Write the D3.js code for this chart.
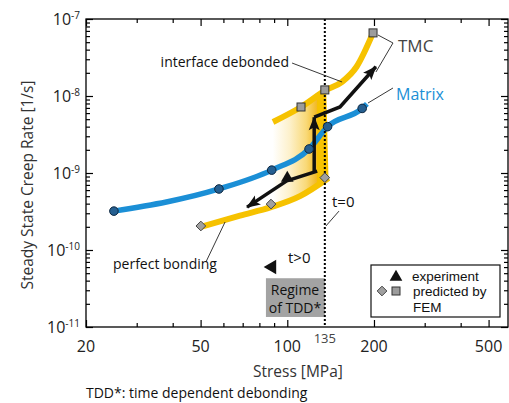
<!DOCTYPE html>
<html>
<head>
<meta charset="utf-8">
<title>Steady state creep rate vs stress</title>
<style>
body { margin: 0; background: #fff; }
svg { display: block; font-family: "Open Sans", sans-serif; }
</style>
</head>
<body>
<svg id="chart" width="509" height="403"></svg>
<script src="https://cdn.jsdelivr.net/npm/d3@7/dist/d3.min.js"></script>
<script>
//----------------------------- DATA -----------------------------//
// stress [MPa], creep rate [1/s]
var xTicks = [20, 50, 100, 200, 500];
var xMinor = [30, 40, 60, 70, 80, 90, 300, 400];
var yTicks = [1e-7, 1e-8, 1e-9, 1e-10, 1e-11];
var yTickExp = ["-7", "-8", "-9", "-10", "-11"];

// matrix: FEM circles and the blue curve through them
var matrixPts = [[25, 3.2e-10], [57.9, 6.2e-10], [88.3, 1.09e-9], [119, 2.05e-9], [138, 4.0e-9], [182, 6.9e-9]];
var matrixLine = [[25, 3.2e-10], [57.9, 6.2e-10], [88.3, 1.09e-9], [119, 2.05e-9], [138, 4.0e-9], [182, 6.9e-9], [189, 7.9e-9]];

// TMC, interface debonded (upper yellow) with FEM squares
var debondLine = [[89.2, 4.6e-9], [111.6, 7.2e-9], [136.5, 1.2e-8], [155, 1.53e-8], [174, 2.4e-8], [198.5, 6.6e-8]];
var debondSquares = [[111.6, 7.2e-9], [135, 1.2e-8], [198.5, 6.6e-8]];

// TMC, perfect bonding (lower yellow) with FEM diamonds
var bondLine = [[50.1, 2.0e-10], [68.5, 2.8e-10], [87.8, 3.6e-10], [110.7, 5.0e-10], [139, 8.6e-10]];
var bondDiamonds = [[50.1, 2.05e-10], [87.8, 3.95e-10], [135, 8.7e-10]];

// TMC experiment (black arrows)
var expLow = [[127, 1.06e-9], [99.6, 7.9e-10], [72.5, 3.6e-10]];
var expRise = [[124, 1.06e-9], [124, 5.3e-9]];
var expHigh = [[124, 5.3e-9], [152.4, 7.2e-9], [203, 2.4e-8]];
var expTriangles = [[100, 8.6e-10]];

var tddStress = 135;

//----------------------------- SVG ------------------------------//
var svg = d3.select("#chart");
var margin = {top: 19, right: 1, bottom: 76, left: 86};
var W = +svg.attr("width"), H = +svg.attr("height");

var x = d3.scaleLog().domain([20, 584]).range([margin.left, W - margin.right]);
var y = d3.scaleLog().domain([1e-11, 1e-7]).range([H - margin.bottom, margin.top]);

var yellow = "#f6c200", blue = "#1b8fd6";

var curve = d3.line()
    .curve(d3.curveMonotoneX)
    .x(function (d) { return x(d[0]); })
    .y(function (d) { return y(d[1]); });
var straight = d3.line()
    .x(function (d) { return x(d[0]); })
    .y(function (d) { return y(d[1]); });

var defs = svg.append("defs");
var grad = defs.append("linearGradient")
    .attr("id", "tddGrad")
    .attr("gradientUnits", "userSpaceOnUse")
    .attr("x1", x(89)).attr("x2", x(139)).attr("y1", 0).attr("y2", 0);
[[0, "#ffffff"], [0.3, "#fdf1cc"], [0.6, "#f9d978"], [0.8, "#f2b820"], [0.8, yellow], [1, yellow]]
    .forEach(function (s) {
        grad.append("stop").attr("offset", s[0]).attr("stop-color", s[1]);
    });

defs.append("marker")
    .attr("id", "arrow")
    .attr("viewBox", "-14 -7 16 14")
    .attr("refX", 0).attr("refY", 0)
    .attr("markerWidth", 16).attr("markerHeight", 14)
    .attr("markerUnits", "userSpaceOnUse")
    .attr("orient", "auto")
    .append("path")
    .attr("d", "M1,0 L-13,-5.5 L-10,0 L-13,5.5 Z")
    .attr("fill", "#111");

//------------------------ TDD REGION ----------------------------//
var bandPath = curve(debondLine.filter(function (d) { return d[0] <= 140; })) +
    straight(bondLine.filter(function (d) { return d[0] >= 87; }).reverse()).replace("M", "L") + "Z";
svg.append("path").attr("d", bandPath).attr("fill", "url(#tddGrad)");

// gray box
svg.append("rect")
    .attr("x", x(84.3)).attr("y", y(4.3e-11))
    .attr("width", x(tddStress) - x(84.3))
    .attr("height", y(1.35e-11) - y(4.3e-11))
    .attr("fill", "#a3a3a3");
svg.append("text").attr("x", 295).attr("y", 295).attr("text-anchor", "middle")
    .style("font-size", "14px").attr("fill", "#111").text("Regime");
svg.append("text").attr("x", 295).attr("y", 312.5).attr("text-anchor", "middle")
    .style("font-size", "14px").attr("fill", "#111").text("of TDD*");

//--------------------------- CURVES -----------------------------//
svg.append("path").attr("d", curve(bondLine))
    .attr("fill", "none").attr("stroke", yellow).attr("stroke-width", 6);
svg.append("path").attr("d", curve(debondLine))
    .attr("fill", "none").attr("stroke", yellow).attr("stroke-width", 6);
svg.append("path").attr("d", curve(matrixLine))
    .attr("fill", "none").attr("stroke", blue).attr("stroke-width", 5.5);

// t = 0 line
svg.append("line")
    .attr("x1", x(tddStress)).attr("x2", x(tddStress))
    .attr("y1", y.range()[1]).attr("y2", y.range()[0])
    .attr("stroke", "#000").attr("stroke-width", 2).attr("stroke-dasharray", "2,2");

// experiment
[expLow, expRise, expHigh].forEach(function (seg) {
    svg.append("path").attr("d", straight(seg))
        .attr("fill", "none").attr("stroke", "#111").attr("stroke-width", 3.5)
        .attr("stroke-linejoin", "miter")
        .attr("marker-end", "url(#arrow)");
});
var tri = d3.symbol().type(d3.symbolTriangle).size(70);
svg.selectAll(".exp").data(expTriangles).enter().append("path")
    .attr("transform", function (d) { return "translate(" + x(d[0]) + "," + y(d[1]) + ")"; })
    .attr("d", tri).attr("fill", "#111");

// FEM markers
svg.selectAll(".mat").data(matrixPts).enter().append("circle")
    .attr("cx", function (d) { return x(d[0]); })
    .attr("cy", function (d) { return y(d[1]); })
    .attr("r", 4.3)
    .attr("fill", "#255f90").attr("stroke", "#0d2740").attr("stroke-width", 1);
svg.selectAll(".sq").data(debondSquares).enter().append("rect")
    .attr("x", function (d) { return x(d[0]) - 4; })
    .attr("y", function (d) { return y(d[1]) - 4; })
    .attr("width", 8).attr("height", 8)
    .attr("fill", "#9c9c9c").attr("stroke", "#333").attr("stroke-width", 1);
var dia = d3.symbol().type(d3.symbolDiamond2).size(60);
svg.selectAll(".dia").data(bondDiamonds).enter().append("path")
    .attr("transform", function (d) { return "translate(" + x(d[0]) + "," + y(d[1]) + ")"; })
    .attr("d", dia)
    .attr("fill", "#a0a0a0").attr("stroke", "#444").attr("stroke-width", 1);

//---------------------------- AXES ------------------------------//
var yMinor = y.ticks().filter(function (v) {
    return Math.abs(Math.log10(v) - Math.round(Math.log10(v))) > 1e-6;
});
var x0 = x.range()[0], x1 = x.range()[1], yb = y.range()[0], yt = y.range()[1];

function ticks(axis, vals, size, tr) {
    svg.append("g").attr("transform", tr)
        .call(axis.tickValues(vals).tickSize(-size).tickFormat(""))
        .call(function (g) { g.select(".domain").remove(); })
        .selectAll("line").attr("stroke", "#000").attr("stroke-width", 1.2);
}
ticks(d3.axisBottom(x), xTicks, 7, "translate(0," + yb + ")");
ticks(d3.axisBottom(x), xMinor, 4, "translate(0," + yb + ")");
ticks(d3.axisTop(x), xTicks, 7, "translate(0," + yt + ")");
ticks(d3.axisTop(x), xMinor, 4, "translate(0," + yt + ")");
ticks(d3.axisLeft(y), yTicks, 7, "translate(" + x0 + ",0)");
ticks(d3.axisLeft(y), yMinor, 4, "translate(" + x0 + ",0)");
ticks(d3.axisRight(y), yTicks, 7, "translate(" + x1 + ",0)");
ticks(d3.axisRight(y), yMinor, 4, "translate(" + x1 + ",0)");

svg.append("rect")
    .attr("x", x0).attr("y", yt).attr("width", x1 - x0).attr("height", yb - yt)
    .attr("fill", "none").attr("stroke", "#000").attr("stroke-width", 1.3);

// x tick labels
svg.selectAll(".xl").data(xTicks).enter().append("text")
    .attr("x", function (d) { return x(d); })
    .attr("y", yb + 24.5)
    .attr("text-anchor", "middle")
    .style("font-size", "16px").attr("fill", "#222")
    .text(function (d) { return d; });
svg.append("text")
    .attr("x", x(tddStress)).attr("y", yb + 15.5)
    .attr("text-anchor", "middle")
    .style("font-size", "13px").attr("fill", "#444")
    .text(tddStress);

// y tick labels 10^n
var yl = svg.selectAll(".yl").data(yTicks).enter().append("text")
    .attr("x", x0 - 6)
    .attr("y", function (d) { return y(d) + 6; })
    .attr("text-anchor", "end")
    .style("font-size", "16px").attr("fill", "#222");
yl.append("tspan").text("10");
yl.append("tspan").attr("dy", -6).style("font-size", "10px")
    .text(function (d, i) { return yTickExp[i]; });

// axis titles
svg.append("text")
    .attr("transform", "translate(33," + ((yt + yb) / 2 + 12) + ") rotate(-90)")
    .attr("text-anchor", "middle")
    .style("font-size", "15.5px").attr("fill", "#333")
    .text("Steady State Creep Rate [1/s]");
svg.append("text")
    .attr("x", 253).attr("y", 377)
    .style("font-size", "15.5px").attr("fill", "#333")
    .text("Stress [MPa]");
svg.append("text")
    .attr("x", 86).attr("y", 398)
    .style("font-size", "14px").attr("fill", "#111")
    .text("TDD*: time dependent debonding");

//------------------------- ANNOTATIONS --------------------------//
var leaders = [
    [[103.9, 2.68e-8], [155, 1.52e-8]],
    [[206.5, 6.2e-8], [232.8, 4.88e-8], [203.2, 2.05e-8]],
    [[190.6, 8.1e-9], [232.8, 1.27e-8]],
    [[52.2, 7.0e-11], [60.8, 2.31e-10]],
    [[136.2, 2.05e-10], [151.2, 3.2e-10]]
];
leaders.forEach(function (l) {
    svg.append("path").attr("d", straight(l))
        .attr("fill", "none").attr("stroke", "#222").attr("stroke-width", 0.9);
});

function label(tx, ty, txt, size, color, anchor, font) {
    var t = svg.append("text").attr("x", tx).attr("y", ty)
        .attr("text-anchor", anchor || "start")
        .style("font-size", size + "px").attr("fill", color).text(txt);
    if (font) t.style("font-family", font);
}
label(289, 67, "interface debonded", 14, "#111", "end");
label(398, 52, "TMC", 17, "#444");
label(396, 99.5, "Matrix", 16, blue);
label(113, 269, "perfect bonding", 14, "#111");
label(332, 207, "t=0", 15, "#111");
label(288, 263, "t>0", 15, "#111");

// t>0 pointer
svg.append("path")
    .attr("transform", "translate(272,267) rotate(-90)")
    .attr("d", d3.symbol().type(d3.symbolTriangle).size(90))
    .attr("fill", "#111");

//--------------------------- LEGEND -----------------------------//
var leg = svg.append("g");
leg.append("rect").attr("x", 371).attr("y", 265).attr("width", 129).attr("height", 52)
    .attr("fill", "#fff").attr("stroke", "#111").attr("stroke-width", 1.2);
leg.append("path").attr("transform", "translate(396,277)").attr("d", tri).attr("fill", "#111");
leg.append("path").attr("transform", "translate(382,291)").attr("d", dia)
    .attr("fill", "#a0a0a0").attr("stroke", "#444").attr("stroke-width", 1);
leg.append("rect").attr("x", 392).attr("y", 287).attr("width", 8).attr("height", 8)
    .attr("fill", "#9c9c9c").attr("stroke", "#333").attr("stroke-width", 1);
var legFont = "'Liberation Sans', Arial, sans-serif";
label(412, 281, "experiment", 13.5, "#111", "start", legFont);
label(413, 296, "predicted by", 13.5, "#111", "start", legFont);
label(413, 311.5, "FEM", 13.5, "#111", "start", legFont);
</script>
</body>
</html>
